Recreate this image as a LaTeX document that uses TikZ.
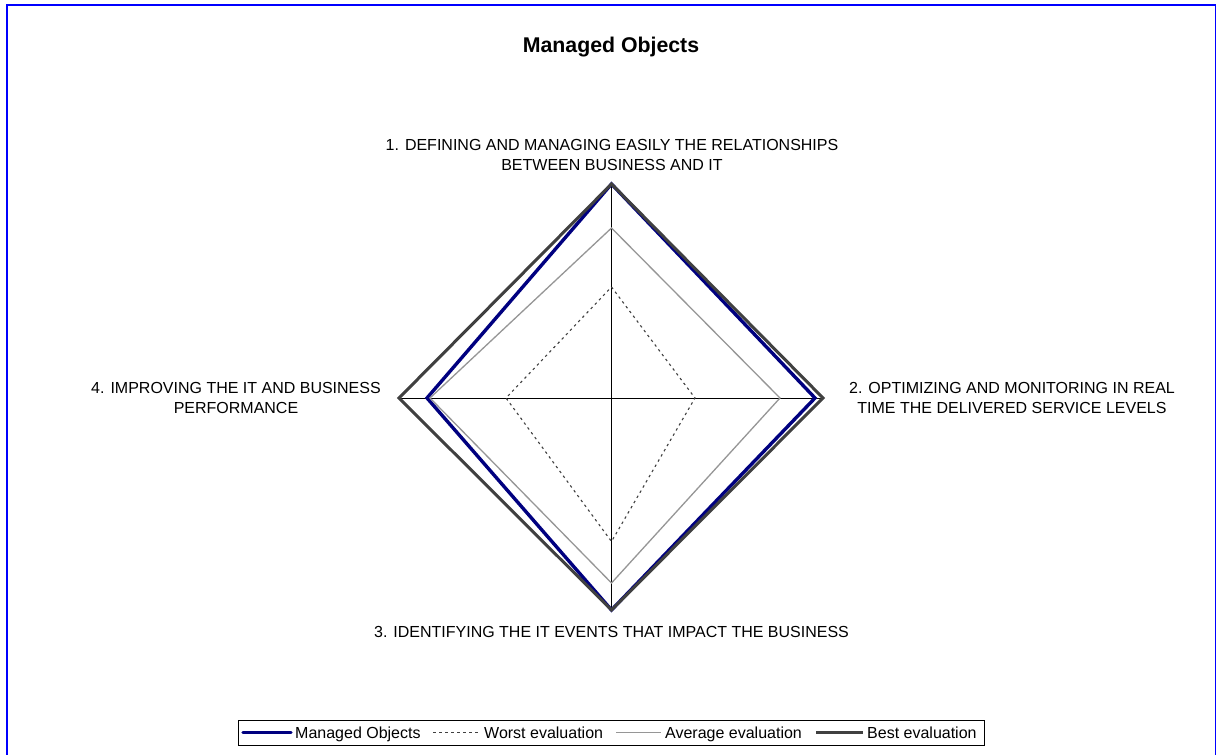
\documentclass[tikz,border=0pt]{standalone}
\usepackage{fontspec}
\setmainfont{Liberation Sans}
\definecolor{navyblue}{RGB}{0,0,128}
\definecolor{bestgray}{RGB}{64,64,64}
\definecolor{avggray}{RGB}{150,150,150}
\definecolor{worstgray}{RGB}{64,64,64}
\definecolor{frameblue}{RGB}{0,0,255}
\tikzset{
  axisline/.style={draw=black, line width=1pt},
  moline/.style={draw=navyblue, line width=3.4pt, line join=miter},
  worstline/.style={draw=worstgray, line width=1.1pt, dash pattern=on 2.5pt off 3.5pt},
  avgline/.style={draw=avggray, line width=1.3pt},
  bestline/.style={draw=bestgray, line width=3pt, line join=miter},
  catlabel/.style={inner sep=0pt, align=center, font=\fontsize{16}{20}\selectfont},
  legtext/.style={inner sep=0pt, anchor=base west, font=\fontsize{16}{18}\selectfont},
  titletext/.style={inner sep=0pt, font=\fontsize{21.3}{24}\selectfont\bfseries}
}
\begin{document}
\begin{tikzpicture}[x=1pt,y=-1pt]
\useasboundingbox (0,0) rectangle (1216,755);
\clip (0,0) rectangle (1216,755);
\fill[white] (0,0) rectangle (1216,755);
\draw[frameblue, line width=2pt] (7,5) rectangle (1215.5,770);

% title
\node[titletext] (title) at (611,47) {Managed Objects};

% center and axis ends
\coordinate (C) at (611.5,398);
\coordinate (aT) at (611.5,184);
\coordinate (aR) at (823,398);
\coordinate (aB) at (611.5,610);
\coordinate (aL) at (399,398);

% axes
\draw[axisline] (aT) -- (aB);
\draw[axisline] (aL) -- (aR);

% series vertices
\coordinate (mT) at (611.5,184);
\coordinate (mR) at (815,398);
\coordinate (mB) at (611.5,610);
\coordinate (mL) at (427,398);

\coordinate (wT) at (611.5,287);
\coordinate (wR) at (695,398);
\coordinate (wB) at (611.5,541.5);
\coordinate (wL) at (506,398);

\coordinate (vT) at (611.5,228);
\coordinate (vR) at (780,398);
\coordinate (vB) at (611.5,583);
\coordinate (vL) at (430,398);

\draw[moline] (mT) -- (mR) -- (mB) -- (mL) -- cycle;
\draw[worstline] (wT) -- (wR) -- (wB) -- (wL) -- cycle;
\draw[avgline] (vT) -- (vR) -- (vB) -- (vL) -- cycle;
\draw[bestline] (aT) -- (aR) -- (aB) -- (aL) -- cycle;

% category labels
\node[catlabel] (lab1) at (612,155) {1. DEFINING AND MANAGING EASILY THE RELATIONSHIPS\\BETWEEN BUSINESS AND IT};
\node[catlabel] (lab2) at (1012,397.5) {2. OPTIMIZING AND MONITORING IN REAL\\TIME THE DELIVERED SERVICE LEVELS};
\node[catlabel] (lab3) at (611.5,632) {3. IDENTIFYING THE IT EVENTS THAT IMPACT THE BUSINESS};
\node[catlabel] (lab4) at (236,397.5) {4. IMPROVING THE IT AND BUSINESS\\PERFORMANCE};

% legend
\draw[black, line width=1pt] (238,720) rectangle (984,745);
\coordinate (l1a) at (243,732.5); \coordinate (l1b) at (291,732.5);
\coordinate (l2a) at (433,732.5); \coordinate (l2b) at (480,732.5);
\coordinate (l3a) at (616,732.5); \coordinate (l3b) at (661,732.5);
\coordinate (l4a) at (816,732.5); \coordinate (l4b) at (863,732.5);
\draw[moline, line cap=round] (l1a) -- (l1b);
\draw[worstline] (l2a) -- (l2b);
\draw[avgline] (l3a) -- (l3b);
\draw[bestline] (l4a) -- (l4b);
\node[legtext] (leg1) at (295,738.5) {Managed Objects};
\node[legtext] (leg2) at (484,738.5) {Worst evaluation};
\node[legtext] (leg3) at (665,738.5) {Average evaluation};
\node[legtext] (leg4) at (867,738.5) {Best evaluation};
\end{tikzpicture}
\end{document}
